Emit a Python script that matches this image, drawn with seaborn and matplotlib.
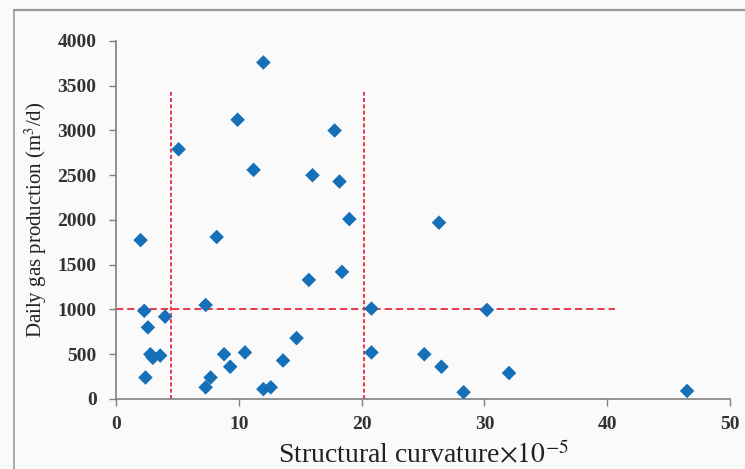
import matplotlib
matplotlib.use("Agg")
import matplotlib.pyplot as plt
from matplotlib.lines import Line2D
import seaborn as sns
import pandas as pd

# Well data: structural curvature (×10^-5) vs daily gas production (m3/d)
curvature = [2.0, 2.3, 2.6, 2.8, 3.0, 3.6, 2.4, 4.0, 5.1, 7.3, 7.3, 7.7, 8.2,
             8.8, 9.3, 9.9, 10.5, 11.2, 12.0, 12.0, 12.6, 13.6, 14.7, 15.7,
             16.0, 17.8, 18.2, 18.4, 19.0, 20.8, 20.8, 25.1, 26.3, 26.5,
             28.3, 30.2, 32.0, 46.5]
gas_production = [1775, 985, 800, 500, 460, 485, 240, 920, 2790, 1050, 130,
                  240, 1810, 500, 360, 3120, 520, 2560, 3760, 110, 130, 430,
                  680, 1330, 2500, 3000, 2430, 1420, 2010, 1010, 520, 500,
                  1970, 360, 75, 995, 290, 90]

# Dividing lines
curvature_cutoffs = [4.5, 20.2]
cutoff_top = 3430
production_cutoff = 1010
production_cutoff_end = 40.6

x_ticks = [0, 10, 20, 30, 40, 50]
y_ticks = [0, 500, 1000, 1500, 2000, 2500, 3000, 3500, 4000]

df = pd.DataFrame({"curvature": curvature, "production": gas_production})

sns.set_style("ticks")
plt.rcParams["font.family"] = ["Liberation Serif", "DejaVu Serif"]
plt.rcParams["mathtext.fontset"] = "stix"

bg = "#fafafa"
fig = plt.figure(figsize=(7.45, 4.69), dpi=100, facecolor=bg)
ax = fig.add_axes([0.1557, 0.1493, 0.8243, 0.7633], facecolor=bg)

# outer frame (top and left edges)
fig.add_artist(Line2D([14 / 745, 1.0], [1 - 10 / 469, 1 - 10 / 469],
                      transform=fig.transFigure, color="#9a9a9a", lw=1.6))
fig.add_artist(Line2D([14 / 745, 14 / 745], [0.0, 1 - 10 / 469],
                      transform=fig.transFigure, color="#9a9a9a", lw=1.2))

red = "#e8283c"
ax.vlines(curvature_cutoffs, 0, cutoff_top, colors=red,
          linestyles=(0, (2.2, 1.3)), lw=1.3, zorder=1)
ax.hlines(production_cutoff, 0, production_cutoff_end, colors=red,
          linestyles=(0, (4, 2.2)), lw=1.3, zorder=1)

sns.scatterplot(data=df, x="curvature", y="production", marker="D", s=55,
                color="#1570b8", edgecolor="none", ax=ax, zorder=3)

ax.set_xlim(0, 50)
ax.set_ylim(0, 4000)
ax.set_xticks(x_ticks)
ax.set_yticks(y_ticks)
ax.tick_params(axis="both", colors="#808080", labelcolor="#333333",
               labelsize=14, length=5, width=1, direction="out")
for lab in ax.get_xticklabels() + ax.get_yticklabels():
    lab.set_fontweight("bold")
ax.tick_params(axis="x", pad=7)
ax.tick_params(axis="y", pad=9)

sns.despine(ax=ax)
for side in ("left", "bottom"):
    ax.spines[side].set_color("#808080")
    ax.spines[side].set_linewidth(1.2)

ax.set_xlabel(r"Structural curvature$\times10^{-5}$", fontsize=20,
              color="#222222", labelpad=6)
ax.set_ylabel(r"Daily gas production (m$^3$/d)", fontsize=15,
              color="#222222", labelpad=6)

fig.savefig("out.png", dpi=100, facecolor=bg)
